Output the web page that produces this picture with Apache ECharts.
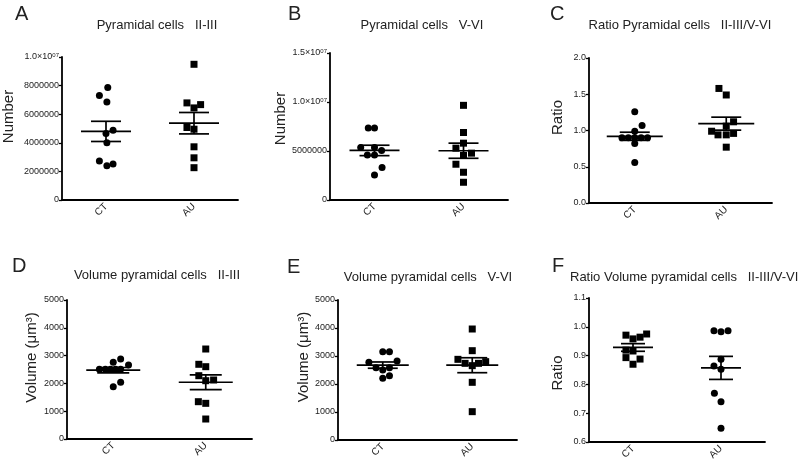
<!DOCTYPE html>
<html>
<head>
<meta charset="utf-8">
<script src="https://cdn.jsdelivr.net/npm/echarts@6/dist/echarts.min.js"></script>
<style>
  html, body { margin: 0; padding: 0; background: #fff; }
  #chart { width: 800px; height: 476px; }
</style>
</head>
<body>
<div id="chart"></div>
<script>
const categories = ["CT", "AU"];

// A - Pyramidal cells II-III (number)
const aCT = [7860000, 7300000, 6860000, 4880000, 4650000, 4000000, 2720000, 2400000, 2510000];
const aCTJit = [0.02, -0.075, 0.01, 0.08, 0, 0.01, -0.075, 0.01, 0.08];
const aAU = [9490000, 6790000, 6440000, 6670000, 5070000, 4950000, 3720000, 2950000, 2260000];
const aAUJit = [0, -0.08, 0, 0.075, -0.08, 0, 0, 0, 0];

// B - Pyramidal cells V-VI (number)
const bCT = [7340000, 7340000, 5360000, 5360000, 4600000, 4600000, 5050000, 3310000, 2560000];
const bCTJit = [-0.07, 0, -0.155, 0, -0.08, 0, 0.08, 0.085, 0];
const bAU = [9660000, 6890000, 5800000, 5290000, 4540000, 4780000, 3650000, 2830000, 1810000];
const bAUJit = [0, 0, 0, -0.085, 0, 0.09, -0.085, 0, 0];

// C - ratio II-III / V-VI
const cCT = [1.26, 1.07, 0.99, 0.90, 0.90, 0.90, 0.90, 0.90, 0.82, 0.56];
const cCTJit = [0, 0.08, 0, -0.14, -0.07, 0, 0.07, 0.14, 0, 0];
const cAU = [1.58, 1.49, 1.12, 1.06, 0.99, 0.94, 0.94, 0.96, 0.77];
const cAUJit = [-0.08, 0, 0.08, 0, -0.16, -0.09, 0, 0.08, 0];

// D - volume II-III
const dCT = [2878, 2759, 2662, 2507, 2507, 2507, 2507, 2507, 1881, 2040];
const dCTJit = [0.08, 0, 0.165, -0.15, -0.085, -0.03, 0.025, 0.08, 0, 0.08];
const dAU = [3237, 2687, 2601, 2277, 2097, 2122, 1342, 1283, 719];
const dAUJit = [0, -0.075, 0, -0.075, 0, 0.085, -0.08, 0, 0];

// E - volume V-VI
const eCT = [3155, 3155, 2774, 2821, 2583, 2500, 2583, 2202, 2298];
const eCTJit = [0, 0.075, -0.155, 0.16, -0.075, 0, 0.075, 0, 0.075];
const eAU = [3964, 3190, 2881, 2738, 2655, 2738, 2798, 2060, 1012];
const eAUJit = [0, 0, -0.16, -0.08, 0, 0.07, 0.15, 0, 0];

// F - ratio volume II-III / V-VI
const fCT = [0.971, 0.958, 0.964, 0.975, 0.919, 0.916, 0.893, 0.888, 0.870];
const fCTJit = [-0.08, 0, 0.08, 0.155, -0.08, 0, -0.08, 0.08, 0];
const fAU = [0.986, 0.983, 0.986, 0.887, 0.864, 0.853, 0.769, 0.740, 0.648];
const fAUJit = [-0.08, 0, 0.08, 0, -0.08, 0, -0.075, 0, 0];

const FONT = "'Liberation Sans', Arial, sans-serif";
const INK = "#000";
const TXT = "#222";

const sciFmt = v => (v >= 1e7 ? (v / 1e7).toFixed(1) + "×10{s|07}" : String(v));
const oneDec = v => v.toFixed(1);
const plain = v => String(v);

const panels = [
  { letter: "A", title: "Pyramidal cells   II-III", yName: "Number",
    ct: aCT, ctJit: aCTJit, au: aAU, auJit: aAUJit, ctSym: "circle", auSym: "rect",
    yMin: 0, yMax: 1e7, yStep: 2e6, fmt: sciFmt,
    grid: { left: 61, top: 57, width: 177, height: 143 },
    titleAt: [157, 25], letterAt: [15, 14], nameGap: 46, namePad: [0, 0, 0, 24], half: [25, 15] },
  { letter: "B", title: "Pyramidal cells   V-VI", yName: "Number",
    ct: bCT, ctJit: bCTJit, au: bAU, auJit: bAUJit, ctSym: "circle", auSym: "rect",
    yMin: 0, yMax: 1.5e7, yStep: 5e6, fmt: sciFmt,
    grid: { left: 330, top: 53, width: 178, height: 147 },
    titleAt: [422, 25], letterAt: [288, 14], nameGap: 42, namePad: [0, 0, 0, 16], half: [25, 15] },
  { letter: "C", title: "Ratio Pyramidal cells   II-III/V-VI", yName: "Ratio",
    ct: cCT, ctJit: cCTJit, au: cAU, auJit: cAUJit, ctSym: "circle", auSym: "rect",
    yMin: 0, yMax: 2, yStep: 0.5, fmt: oneDec,
    grid: { left: 589, top: 58, width: 183, height: 145 },
    titleAt: [680, 25], letterAt: [550, 14], nameGap: 24, namePad: [0, 0, 0, 26], half: [28, 15] },
  { letter: "D", title: "Volume pyramidal cells   II-III", yName: "Volume (μm³)",
    ct: dCT, ctJit: dCTJit, au: dAU, auJit: dAUJit, ctSym: "circle", auSym: "rect",
    yMin: 0, yMax: 5000, yStep: 1000, fmt: plain,
    grid: { left: 67, top: 300, width: 185, height: 139 },
    titleAt: [157, 275], letterAt: [12, 266], nameGap: 28, namePad: [0, 0, 0, 24], half: [27, 16] },
  { letter: "E", title: "Volume pyramidal cells   V-VI", yName: "Volume (μm³)",
    ct: eCT, ctJit: eCTJit, au: eAU, auJit: eAUJit, ctSym: "circle", auSym: "rect",
    yMin: 0, yMax: 5000, yStep: 1000, fmt: plain,
    grid: { left: 338, top: 300, width: 179, height: 140 },
    titleAt: [428, 277], letterAt: [287, 267], nameGap: 24, namePad: [0, 0, 0, 26], half: [26, 15] },
  { letter: "F", title: "Ratio Volume pyramidal cells   II-III/V-VI", yName: "Ratio",
    ct: fCT, ctJit: fCTJit, au: fAU, auJit: fAUJit, ctSym: "rect", auSym: "circle",
    yMin: 0.6, yMax: 1.1, yStep: 0.1, fmt: oneDec,
    grid: { left: 589, top: 298, width: 176, height: 144 },
    titleAt: [570, 277], titleAlign: "left", letterAt: [552, 266], nameGap: 24, namePad: [0, 6, 0, 0], half: [20, 12] }
];

function mean(arr) {
  return arr.reduce((s, v) => s + v, 0) / arr.length;
}
function sem(arr) {
  const m = mean(arr);
  const ss = arr.reduce((s, v) => s + (v - m) * (v - m), 0);
  return Math.sqrt(ss / (arr.length - 1)) / Math.sqrt(arr.length);
}

function meanSemSeries(p, i) {
  const [hm, hc] = p.half;
  return {
    type: "custom",
    xAxisIndex: 2 * i + 1,
    yAxisIndex: i,
    clip: false,
    z: 3,
    data: [[1, mean(p.ct), sem(p.ct)], [2, mean(p.au), sem(p.au)]],
    renderItem(params, api) {
      const x = api.value(0), m = api.value(1), s = api.value(2);
      const c = api.coord([x, m]);
      const hi = api.coord([x, m + s]);
      const lo = api.coord([x, m - s]);
      const st = { stroke: INK, lineWidth: 1.7 };
      return {
        type: "group",
        children: [
          { type: "line", shape: { x1: c[0] - hm, y1: c[1], x2: c[0] + hm, y2: c[1] }, style: st },
          { type: "line", shape: { x1: c[0], y1: hi[1], x2: c[0], y2: lo[1] }, style: st },
          { type: "line", shape: { x1: c[0] - hc, y1: hi[1], x2: c[0] + hc, y2: hi[1] }, style: st },
          { type: "line", shape: { x1: c[0] - hc, y1: lo[1], x2: c[0] + hc, y2: lo[1] }, style: st }
        ]
      };
    }
  };
}

function pointSeries(vals, jit, center, sym, i) {
  return {
    type: "scatter",
    xAxisIndex: 2 * i + 1,
    yAxisIndex: i,
    symbol: sym,
    symbolSize: 7,
    itemStyle: { color: INK, opacity: 1 },
    z: 2,
    data: vals.map((v, k) => [center + jit[k], v])
  };
}

const chart = echarts.init(document.getElementById("chart"), null, { renderer: "canvas" });

const graphics = [];
panels.forEach(p => {
  graphics.push({
    type: "text", x: p.titleAt[0], y: p.titleAt[1],
    style: { text: p.title, fontSize: 13, fontFamily: FONT, fill: TXT,
      textAlign: p.titleAlign || "center", textVerticalAlign: "middle" }
  });
  graphics.push({
    type: "text", x: p.letterAt[0], y: p.letterAt[1],
    style: { text: p.letter, fontSize: 20, fontFamily: FONT, fill: TXT,
      textAlign: "left", textVerticalAlign: "middle" }
  });
});

chart.setOption({
  animation: false,
  backgroundColor: "#fff",
  textStyle: { fontFamily: FONT },
  graphic: graphics,
  grid: panels.map(p => Object.assign({ containLabel: false }, p.grid)),
  xAxis: panels.flatMap((p, i) => [
    {
      type: "category",
      gridIndex: i,
      data: categories,
      boundaryGap: true,
      axisLine: { lineStyle: { color: INK, width: 1.8 } },
      axisTick: { alignWithLabel: true, length: 4, lineStyle: { color: INK, width: 1.3 } },
      axisLabel: { rotate: 45, fontSize: 10, color: TXT, margin: 5 },
      splitLine: { show: false }
    },
    { type: "value", gridIndex: i, min: 0.5, max: 2.5, show: false }
  ]),
  yAxis: panels.map((p, i) => ({
    type: "value",
    gridIndex: i,
    min: p.yMin,
    max: p.yMax,
    interval: p.yStep,
    name: p.yName,
    nameLocation: "middle",
    nameGap: p.nameGap,
    nameTextStyle: { fontSize: 15, color: TXT, padding: p.namePad },
    axisLine: { show: true, lineStyle: { color: INK, width: 1.8 } },
    axisTick: { show: true, length: 3, lineStyle: { color: INK, width: 1.3 } },
    axisLabel: {
      fontSize: 9, color: TXT, margin: 3,
      formatter: p.fmt,
      rich: { s: { fontSize: 6, verticalAlign: "top", color: TXT } }
    },
    splitLine: { show: false }
  })),
  series: panels.flatMap((p, i) => [
    pointSeries(p.ct, p.ctJit, 1, p.ctSym, i),
    pointSeries(p.au, p.auJit, 2, p.auSym, i),
    meanSemSeries(p, i)
  ])
});
</script>
</body>
</html>
